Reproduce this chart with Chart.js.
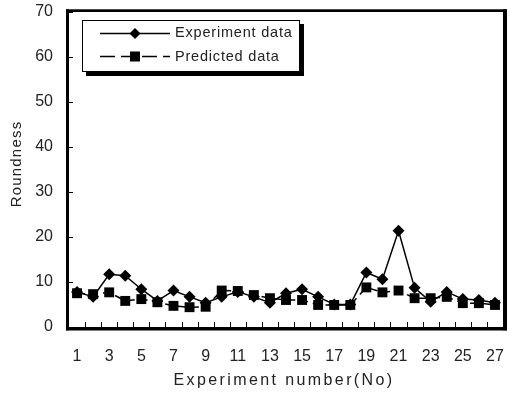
<!DOCTYPE html>
<html>
<head>
<meta charset="utf-8">
<script src="https://cdn.jsdelivr.net/npm/chart.js@4/dist/chart.umd.min.js"></script>
<style>
  html, body { margin: 0; padding: 0; background: #fff; }
</style>
</head>
<body>
<canvas id="roundChart" width="510" height="393"></canvas>
<script>
// Experiment number 1..27
const experimentNo = ["1", "2", "3", "4", "5", "6", "7", "8", "9", "10", "11", "12", "13", "14",
  "15", "16", "17", "18", "19", "20", "21", "22", "23", "24", "25", "26", "27"];
// Roundness values
const experimentData = [7.8, 6.7, 11.7, 11.4, 8.4, 5.8, 8.1, 6.7, 5.4, 6.7, 7.8, 6.7, 5.4, 7.5,
  8.4, 6.7, 5.0, 5.0, 12.1, 10.6, 21.4, 8.7, 5.6, 7.8, 6.2, 6.0, 5.4];
const predictedData = [7.5, 7.3, 7.7, 5.8, 6.2, 5.5, 4.7, 4.4, 4.5, 8.1, 8.0, 7.1, 6.4, 6.0,
  6.0, 4.9, 4.9, 4.9, 8.8, 7.7, 8.1, 6.4, 6.4, 6.7, 5.3, 5.3, 4.9];
const yTicks = [0, 10, 20, 30, 40, 50, 60, 70];
const legendLabels = ["Experiment data", "Predicted data"];

const FONT = "'Liberation Sans', Arial, sans-serif";
const TXT = "#222";

function diamond(ctx, x, y, r) {
  ctx.beginPath();
  ctx.moveTo(x, y - r);
  ctx.lineTo(x + r, y);
  ctx.lineTo(x, y + r);
  ctx.lineTo(x - r, y);
  ctx.closePath();
  ctx.fill();
}

// frame, inward tick marks, axis titles and the boxed legend
const extras = {
  id: "extras",
  afterDraw(chart) {
    const ctx = chart.ctx;
    const a = chart.chartArea;
    const xs = chart.scales.x, ys = chart.scales.y;
    ctx.save();
    ctx.fillStyle = "#000";
    ctx.strokeStyle = "#000";

    // tick marks pointing into the plot
    ctx.lineWidth = 1;
    ctx.beginPath();
    yTicks.forEach(v => {
      const py = Math.round(ys.getPixelForValue(v)) + 0.5;
      ctx.moveTo(a.left, py);
      ctx.lineTo(a.left + 4, py);
    });
    for (let i = 1; i < experimentNo.length; i++) {
      const px = Math.round((xs.getPixelForValue(i - 1) + xs.getPixelForValue(i)) / 2) + 0.5;
      ctx.moveTo(px, a.bottom);
      ctx.lineTo(px, a.bottom - 5);
    }
    ctx.stroke();

    // plot frame (thicker right / bottom)
    ctx.fillRect(a.left - 3, a.top - 2.7, a.right - a.left + 7, 2.7);
    ctx.fillRect(a.left - 3, a.top - 2.7, 3, a.bottom - a.top + 6);
    ctx.fillRect(a.right, a.top - 2.7, 4, a.bottom - a.top + 6);
    ctx.fillRect(a.left - 3, a.bottom, a.right - a.left + 7, 3.5);

    // legend box with shadow
    const lx = 82, ly = 20, lw = 218, lh = 52;
    ctx.fillRect(lx + 4, ly + 4, lw, lh);
    ctx.fillStyle = "#fff";
    ctx.fillRect(lx, ly, lw, lh);
    ctx.lineWidth = 1;
    ctx.strokeRect(lx + 0.5, ly + 0.5, lw - 1, lh - 1);
    ctx.fillStyle = "#000";

    // row 1 : solid line + diamond
    ctx.lineWidth = 1.5;
    ctx.beginPath();
    ctx.moveTo(100, 33.5); ctx.lineTo(170, 33.5);
    ctx.stroke();
    diamond(ctx, 135, 33.5, 5.5);
    // row 2 : dashed line + square
    ctx.setLineDash([15, 6]);
    ctx.beginPath();
    ctx.moveTo(100, 56.5); ctx.lineTo(170, 56.5);
    ctx.stroke();
    ctx.setLineDash([]);
    ctx.fillRect(130, 51.5, 10, 10);

    ctx.fillStyle = TXT;
    ctx.font = "14.5px " + FONT;
    ctx.textBaseline = "middle";
    ctx.textAlign = "left";
    ctx.letterSpacing = "0.8px";
    ctx.fillText(legendLabels[0], 175, 33);
    ctx.fillText(legendLabels[1], 175, 57);

    // axis titles
    ctx.font = "16px " + FONT;
    ctx.letterSpacing = "2.4px";
    ctx.textAlign = "center";
    ctx.fillText("Experiment number(No)", (a.left + a.right) / 2 - 2, 381);

    ctx.translate(17, 164);
    ctx.rotate(-Math.PI / 2);
    ctx.font = "15px " + FONT;
    ctx.letterSpacing = "1.2px";
    ctx.fillText("Roundness", 0, 0);
    ctx.restore();
  }
};

new Chart(document.getElementById("roundChart").getContext("2d"), {
  type: "line",
  data: {
    labels: experimentNo,
    datasets: [
      {
        label: legendLabels[0],
        data: experimentData,
        borderColor: "#000",
        backgroundColor: "#000",
        borderWidth: 1.5,
        pointStyle: "rectRot",
        pointRadius: 6,
        pointBorderWidth: 0,
        order: 2
      },
      {
        label: legendLabels[1],
        data: predictedData,
        borderColor: "#000",
        backgroundColor: "#000",
        borderWidth: 1.5,
        borderDash: [8, 5],
        pointStyle: "rect",
        pointRadius: 7,
        pointBorderWidth: 0,
        order: 1
      }
    ]
  },
  options: {
    responsive: false,
    animation: false,
    layout: { padding: { top: 12, right: 4, left: 0, bottom: 0 } },
    plugins: {
      legend: { display: false },
      tooltip: { enabled: false }
    },
    scales: {
      x: {
        offset: true,
        grid: { display: false, drawTicks: false },
        border: { display: false },
        ticks: {
          autoSkip: false,
          maxRotation: 0,
          padding: 20,
          color: TXT,
          font: { family: FONT, size: 16 },
          callback: (v, i) => (i % 2 === 0 ? experimentNo[i] : "")
        },
        afterFit: s => { s.height = 66; s.paddingLeft = 0; s.paddingRight = 0; }
      },
      y: {
        min: 0,
        max: 70,
        grid: { display: false, drawTicks: false },
        border: { display: false },
        ticks: {
          stepSize: 10,
          padding: 16,
          color: TXT,
          font: { family: FONT, size: 16 }
        },
        afterFit: s => { s.width = 69; s.paddingTop = 0; s.paddingBottom = 0; }
      }
    }
  },
  plugins: [extras]
});
</script>
</body>
</html>
